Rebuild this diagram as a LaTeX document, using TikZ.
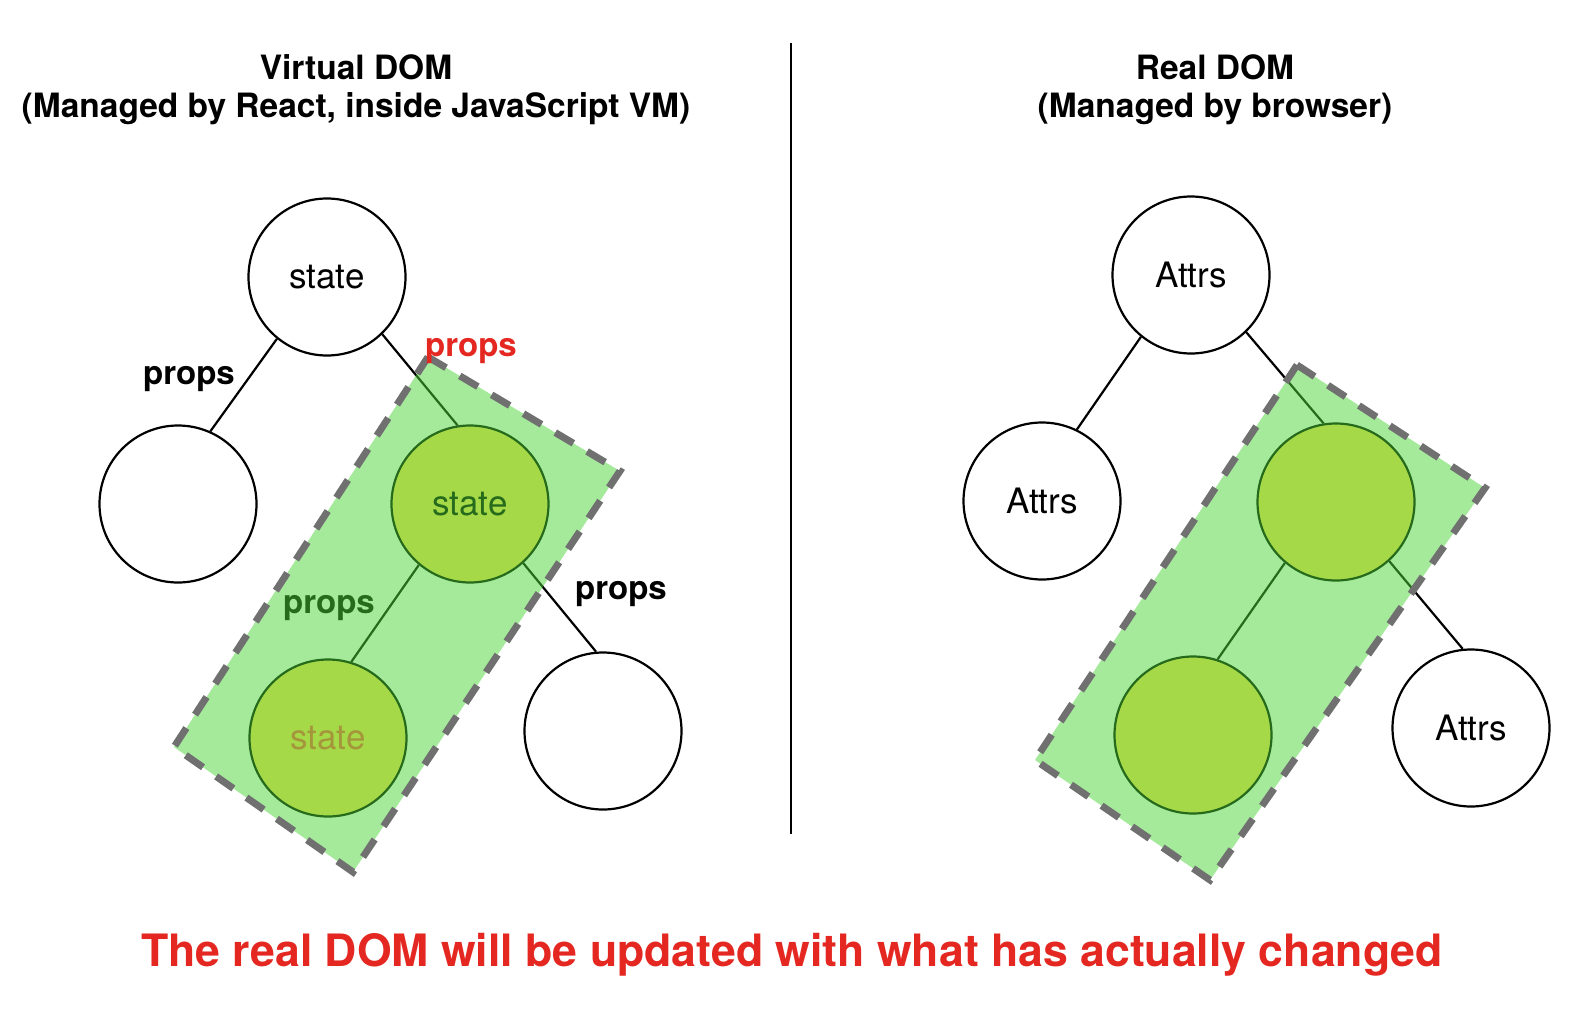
\documentclass[tikz,border=0pt]{standalone}
\usepackage{fontspec}
\setmainfont{TeX Gyre Heros}
\definecolor{ovl}{RGB}{77,213,57}
\definecolor{nodefill}{RGB}{255,223,87}
\definecolor{redtxt}{RGB}{228,40,33}
\definecolor{tanunder}{RGB}{255,87,63}
\definecolor{dashgray}{RGB}{112,112,112}
\begin{document}
\begin{tikzpicture}[x=1pt,y=-1pt,
  nd/.style={circle,draw=black,line width=2.2pt,minimum size=157pt,inner sep=0pt,font=\fontsize{35}{40}\selectfont},
  hl/.style={nd,fill=nodefill},
  edge/.style={line width=2.2pt},
  lbl/.style={anchor=base,inner sep=0pt,font=\fontsize{33}{38}\selectfont\bfseries},
  ttl/.style={anchor=base,inner sep=0pt,font=\fontsize{33.5}{40}\selectfont\bfseries},
  zone/.style={fill=ovl,fill opacity=0.5,draw=none},
  zoneborder/.style={draw=dashgray,line width=7pt,dash pattern=on 21pt off 16pt}]
\useasboundingbox (0,0) rectangle (1590,1015);
\fill[white] (0,0) rectangle (1590,1015);

% titles
\node[ttl] (t1) at (356,79) {Virtual DOM};
\node[ttl] (t2) at (356,117) {(Managed by React, inside JavaScript VM)};
\node[ttl] (t3) at (1215,79) {Real DOM};
\node[ttl] (t4) at (1215,117) {(Managed by browser)};

% divider
\coordinate (dtop) at (791,43);
\coordinate (dbot) at (791,834);
\draw[line width=2pt] (dtop) -- (dbot);

% left tree
\node[nd] (T) at (327,277) {state};
\node[nd] (L) at (178,504) {};
\node[hl] (G1) at (470,504) {state};
\node[hl,text=tanunder] (G2) at (328,738) {state};
\node[nd] (R) at (603,731) {};
\draw[edge] (T.231) -- (L.66);
\draw[edge] (T.-46) -- (G1.99);
\draw[edge] (G1.230) -- (G2.73);
\draw[edge] (G1.-48) -- (R.95);
\node[lbl] (p1) at (189,384) {props};
\node[lbl] (p3) at (329,613) {props};
\node[lbl] (p4) at (621,599) {props};

% right tree
\node[nd] (TA) at (1191,275) {Attrs};
\node[nd] (LA) at (1042,501) {Attrs};
\node[hl] (GA1) at (1336,502) {};
\node[hl] (GA2) at (1193,735) {};
\node[nd] (RA) at (1471,728) {Attrs};
\draw[edge] (TA.231) -- (LA.64);
\draw[edge] (TA.-46) -- (GA1.99);
\draw[edge] (GA1.230) -- (GA2.72);
\draw[edge] (GA1.-48) -- (RA.96);

% highlighted zones
\fill[zone] (428,357) -- (620,471) -- (353,872) -- (174,747) -- cycle;
\fill[zone] (1297,365) -- (1485,488) -- (1210,880) -- (1035,760) -- cycle;
\draw[zoneborder] (428,357) -- (620,471) -- (353,872) -- (174,747) -- cycle;
\draw[zoneborder] (1297,365) -- (1485,488) -- (1210,880) -- (1035,760) -- cycle;

\node[lbl,text=redtxt] (p2) at (471,356) {props};

% caption
\node[anchor=base,inner sep=0pt,text=redtxt,font=\fontsize{44.6}{50}\selectfont\bfseries] (cap) at (792,966) {The real DOM will be updated with what has actually changed};
\end{tikzpicture}
\end{document}
